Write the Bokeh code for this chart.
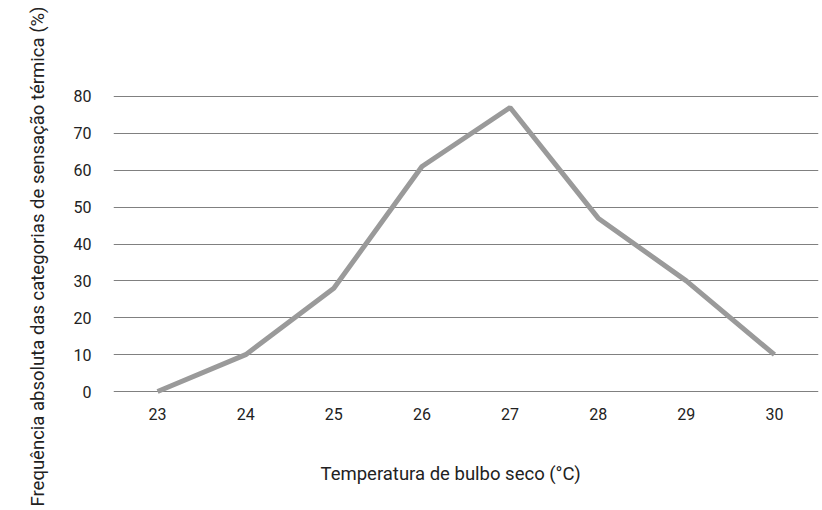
from bokeh.plotting import figure
from bokeh.models import Range1d, FixedTicker, Title
from bokeh.embed import file_html
from bokeh.resources import INLINE

temperatures = [23, 24, 25, 26, 27, 28, 29, 30]
frequencies = [0, 10, 28, 61, 77, 47, 30, 10]
y_ticks = [0, 10, 20, 30, 40, 50, 60, 70, 80]

x_title = "Temperatura de bulbo seco (°C)"
y_title = "Frequência absoluta das categorias de sensação térmica (%)"

FONT = "Roboto"

p = figure(width=822, height=510, output_backend="svg", toolbar_location=None,
           x_range=Range1d(22.5, 30.5), y_range=Range1d(-0.8, 80.8),
           min_border_left=113, min_border_right=4, min_border_top=93,
           min_border_bottom=116)
p.outline_line_color = None
p.background_fill_color = "white"
p.border_fill_color = "white"

p.line(temperatures, frequencies, line_color="#9a9a9a", line_width=5)

for ax in (p.xaxis[0], p.yaxis[0]):
    ax.axis_line_color = None
    ax.major_tick_line_color = None
    ax.minor_tick_line_color = None
    ax.major_label_text_font = FONT
    ax.major_label_text_font_size = "16px"
    ax.major_label_text_color = "#222222"

p.xaxis.ticker = FixedTicker(ticks=temperatures)
p.yaxis.ticker = FixedTicker(ticks=y_ticks)
p.xaxis.major_label_standoff = 7
p.yaxis.major_label_standoff = 16

p.xgrid.grid_line_color = None
p.ygrid.grid_line_color = "#808080"
p.ygrid.grid_line_width = 1.2

# invisible spacer between the x tick labels and the x-axis title
spacer = Title(text="\u00a0", text_font_size="1px", standoff=35)
p.add_layout(spacer, "below")
tx = Title(text=x_title, align="left", offset=207, text_font=FONT,
           text_font_size="18.5px", text_font_style="normal", text_color="#222222",
           standoff=0)
p.add_layout(tx, "below")
ty = Title(text=y_title, align="left", offset=-112, text_font=FONT,
           text_font_size="18.5px", text_font_style="normal", text_color="#222222",
           standoff=44)
p.add_layout(ty, "left")

open("out.html", "w").write(file_html(p, INLINE))
